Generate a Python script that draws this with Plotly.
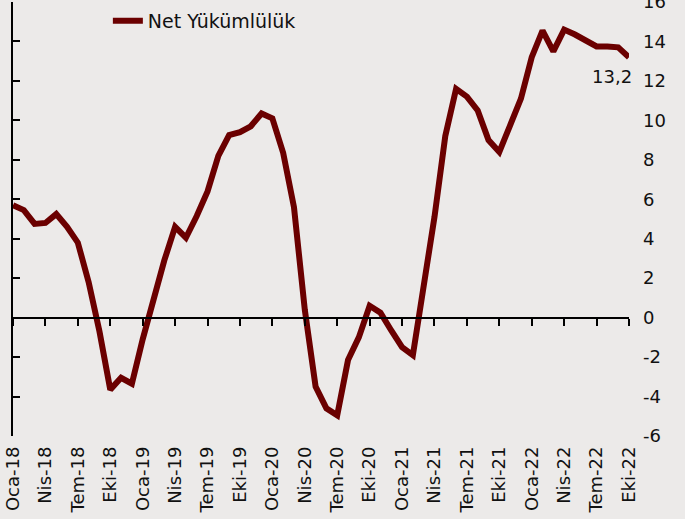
import plotly.graph_objects as go

month_abbr = ["Oca", "Şub", "Mar", "Nis", "May", "Haz", "Tem", "Ağu", "Eyl", "Eki", "Kas", "Ara"]
years = ["18", "19", "20", "21", "22"]
months = [f"{m}-{y}" for y in years for m in month_abbr][:58]  # Oca-18 .. Eki-22

net_yukumluluk = [
    5.7, 5.45, 4.75, 4.8, 5.25, 4.6, 3.8, 1.8, -0.7, -3.65, -3.05, -3.35,
    -1.1, 0.9, 2.9, 4.6, 4.05, 5.15, 6.4, 8.2, 9.25, 9.4, 9.7, 10.35,
    10.1, 8.35, 5.6, 0.4, -3.5, -4.6, -4.95, -2.15, -1.0, 0.6, 0.25, -0.65,
    -1.5, -1.9, 1.6, 5.1, 9.2, 11.6, 11.2, 10.5, 9.0, 8.4, 9.75, 11.1,
    13.2, 14.55, 13.5, 14.6, 14.35, 14.05, 13.75, 13.75, 13.7, 13.2,
]
tick_labels = months[::3]
y_ticks = list(range(-6, 17, 2))

FONT = "DejaVu Sans"
BG = "#ECEAE9"
LINE = "#6B0000"
TXT = "#111111"
FS = 18

fig = go.Figure()
fig.add_trace(go.Scatter(
    x=months, y=net_yukumluluk, mode="lines", name="Net Yükümlülük",
    line=dict(color=LINE, width=6), xaxis="x", yaxis="y",
))
# helper (invisible) trace so the label axes are drawn
fig.add_trace(go.Scatter(
    x=months, y=net_yukumluluk, mode="lines", showlegend=False,
    line=dict(color="rgba(0,0,0,0)", width=0), hoverinfo="skip",
    xaxis="x2", yaxis="y2",
))

last_label = f"{net_yukumluluk[-1]:.1f}".replace(".", ",")
fig.add_annotation(
    x=months[-1], y=net_yukumluluk[-1], xref="x", yref="y",
    text=last_label, showarrow=False, xanchor="center", yanchor="middle",
    xshift=-17, yshift=-19, font=dict(family=FONT, size=FS, color=TXT),
)

W, H = 685, 519
ml, mr, mt, mb = 13, 56, 2, 83
zero_frac = (0 - (-6)) / (16 - (-6))

fig.update_layout(
    width=W, height=H,
    margin=dict(l=ml, r=mr, t=mt, b=mb, pad=0, autoexpand=False),
    paper_bgcolor=BG, plot_bgcolor=BG,
    font=dict(family=FONT, size=FS, color=TXT),
    showlegend=True,
    legend=dict(x=0.154, y=1.0, xanchor="left", yanchor="top",
                bgcolor="rgba(0,0,0,0)", font=dict(family=FONT, size=19, color=TXT),
                itemwidth=30),
    xaxis=dict(
        type="category", range=[0, len(months) - 1], automargin=False,
        anchor="free", position=zero_frac, side="bottom",
        showline=True, linecolor="black", linewidth=2,
        ticks="outside", ticklen=7, tickwidth=1.5, tickcolor="black",
        tickmode="array", tickvals=tick_labels, ticktext=tick_labels,
        showticklabels=False, showgrid=False, zeroline=False,
    ),
    xaxis2=dict(
        type="category", range=[0, len(months) - 1], overlaying="x",
        anchor="y2", side="bottom", automargin=False,
        showline=False, ticks="", showgrid=False, zeroline=False,
        tickmode="array", tickvals=tick_labels, ticktext=tick_labels,
        tickangle=-90, ticklabelstandoff=6, ticklabeloverflow="allow",
        tickfont=dict(family=FONT, size=FS, color=TXT),
    ),
    yaxis=dict(
        range=[-6, 16], side="left", automargin=False,
        showline=True, linecolor="black", linewidth=2,
        ticks="inside", ticklen=7, tickwidth=1.5, tickcolor="black",
        tickmode="array", tickvals=y_ticks,
        showticklabels=False, showgrid=False, zeroline=False,
    ),
    yaxis2=dict(
        range=[-6, 16], overlaying="y", side="right", anchor="x2",
        automargin=False,
        showline=False, ticks="", showgrid=False, zeroline=False,
        tickmode="array", tickvals=y_ticks, ticktext=[str(v) for v in y_ticks],
        ticklabelstandoff=13, ticklabeloverflow="allow",
        tickfont=dict(family=FONT, size=FS, color=TXT),
    ),
)

fig.write_html(
    "out.html",
    config={"displayModeBar": False},
    post_script="document.body.style.margin='0';document.body.style.background='" + BG + "';",
)
